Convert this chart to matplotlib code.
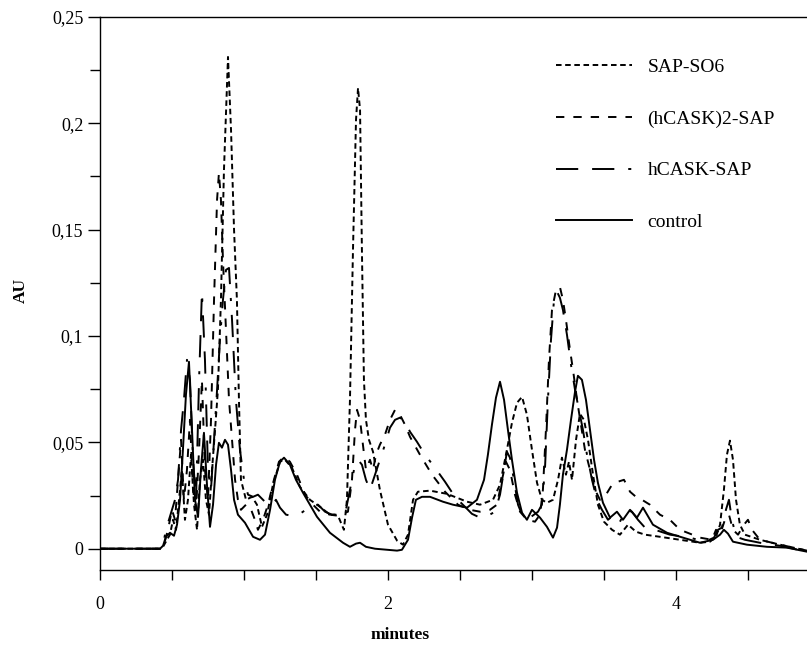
import matplotlib
matplotlib.use("Agg")
import matplotlib.pyplot as plt
from matplotlib.ticker import MultipleLocator, FixedLocator

plt.rcParams['font.family'] = ['Liberation Serif', 'DejaVu Serif']
plt.rcParams['lines.scale_dashes'] = False

# ---- data (minutes, AU) ----
sap_t = [0, 0.417, 0.438, 0.465, 0.486, 0.507, 0.528, 0.549, 0.569, 0.590,
         0.611, 0.632, 0.653, 0.674, 0.694, 0.715, 0.736, 0.757, 0.778, 0.799,
         0.819, 0.840, 0.861, 0.889, 0.910, 0.931, 0.951, 0.965, 0.979, 1.014,
         1.056, 1.090, 1.125, 1.160, 1.201, 1.250, 1.285, 1.333, 1.389, 1.458,
         1.528, 1.597, 1.653, 1.694, 1.715, 1.736, 1.757, 1.778, 1.792, 1.806,
         1.819, 1.833, 1.847, 1.868, 1.896, 1.944, 2.000, 2.063, 2.104, 2.139,
         2.174, 2.208, 2.292, 2.410, 2.549, 2.639, 2.729, 2.778, 2.826, 2.861,
         2.896, 2.931, 2.965, 3.000, 3.035, 3.069, 3.104, 3.146, 3.181, 3.208,
         3.236, 3.257, 3.278, 3.306, 3.333, 3.361, 3.389, 3.424, 3.458, 3.500,
         3.556, 3.611, 3.667, 3.722, 3.785, 3.889, 4.028, 4.167, 4.236, 4.278,
         4.306, 4.333, 4.354, 4.375, 4.396, 4.417, 4.444, 4.479, 4.583, 4.722,
         4.910]
sap_v = [0, 0, 0.0009, 0.0042, 0.0066, 0.0136, 0.0089, 0.0230, 0.0371, 0.0136,
         0.0230, 0.0442, 0.0207, 0.0089, 0.0324, 0.0418, 0.0230, 0.0160, 0.0371, 0.0559,
         0.0747, 0.1170, 0.1781, 0.2312, 0.1969, 0.1499, 0.1170, 0.0700, 0.0324, 0.0230,
         0.0244, 0.0207, 0.0103, 0.0160, 0.0301, 0.0409, 0.0418, 0.0381, 0.0291, 0.0230,
         0.0197, 0.0160, 0.0155, 0.0089, 0.0230, 0.0700, 0.1405, 0.2016, 0.2166, 0.2063,
         0.1405, 0.0794, 0.0606, 0.0512, 0.0456, 0.0277, 0.0113, 0.0038, 0.0019, 0.0066,
         0.0230, 0.0268, 0.0273, 0.0258, 0.0221, 0.0207, 0.0230, 0.0301, 0.0465, 0.0592,
         0.0686, 0.0714, 0.0630, 0.0465, 0.0310, 0.0230, 0.0216, 0.0230, 0.0324, 0.0428,
         0.0348, 0.0409, 0.0324, 0.0512, 0.0634, 0.0606, 0.0512, 0.0348, 0.0207, 0.0127,
         0.0089, 0.0066, 0.0113, 0.0080, 0.0066, 0.0056, 0.0042, 0.0028, 0.0033, 0.0056,
         0.0113, 0.0277, 0.0442, 0.0508, 0.0418, 0.0230, 0.0113, 0.0066, 0.0042, 0.0019,
         -0.0009]

hcask2_t = [0, 0.417, 0.444, 0.472, 0.500, 0.521, 0.542, 0.563, 0.583, 0.604,
            0.625, 0.646, 0.667, 0.688, 0.708, 0.729, 0.750, 0.771, 0.792, 0.813,
            0.826, 0.840, 0.854, 0.875, 0.896, 0.917, 0.938, 0.958, 0.979, 1.014,
            1.042, 1.076, 1.097, 1.132, 1.167, 1.208, 1.243, 1.278, 1.319, 1.368,
            1.424, 1.479, 1.528, 1.597, 1.667, 1.722, 1.750, 1.771, 1.785, 1.806,
            1.826, 1.847, 1.875, 1.896, 1.917, 1.944, 1.979, 2.014, 2.049, 2.083,
            2.118, 2.153, 2.222, 2.306, 2.396, 2.486, 2.569, 2.639, 2.708, 2.757,
            2.792, 2.819, 2.847, 2.882, 2.917, 2.965, 3.021, 3.056, 3.076, 3.097,
            3.118, 3.139, 3.167, 3.194, 3.215, 3.236, 3.264, 3.285, 3.313, 3.340,
            3.368, 3.403, 3.438, 3.472, 3.514, 3.556, 3.597, 3.639, 3.681, 3.722,
            3.764, 3.819, 3.889, 3.958, 4.028, 4.167, 4.250, 4.278, 4.306, 4.340,
            4.368, 4.396, 4.431, 4.472, 4.500, 4.528, 4.583, 4.722, 4.910]
hcask2_v = [0, 0, 0.0019, 0.0089, 0.0183, 0.0136, 0.0324, 0.0512, 0.0230, 0.0371,
            0.0606, 0.0277, 0.0183, 0.0465, 0.0794, 0.0371, 0.0230, 0.0606, 0.1170, 0.1640,
            0.1767, 0.1640, 0.1358, 0.1029, 0.0700, 0.0512, 0.0324, 0.0230, 0.0183, 0.0207,
            0.0197, 0.0136, 0.0089, 0.0136, 0.0207, 0.0324, 0.0409, 0.0432, 0.0409, 0.0348,
            0.0254, 0.0207, 0.0174, 0.0160, 0.0160, 0.0174, 0.0324, 0.0559, 0.0653, 0.0606,
            0.0489, 0.0371, 0.0418, 0.0371, 0.0442, 0.0489, 0.0536, 0.0606, 0.0653, 0.0630,
            0.0583, 0.0526, 0.0442, 0.0348, 0.0268, 0.0207, 0.0183, 0.0174, 0.0183, 0.0207,
            0.0324, 0.0409, 0.0371, 0.0254, 0.0174, 0.0136, 0.0127, 0.0160, 0.0277, 0.0559,
            0.0888, 0.1123, 0.1217, 0.1231, 0.1170, 0.1076, 0.0935, 0.0841, 0.0700, 0.0583,
            0.0465, 0.0371, 0.0277, 0.0230, 0.0254, 0.0301, 0.0315, 0.0324, 0.0268, 0.0244,
            0.0230, 0.0207, 0.0160, 0.0136, 0.0089, 0.0052, 0.0042, 0.0089, 0.0066, 0.0136,
            0.0160, 0.0089, 0.0066, 0.0113, 0.0136, 0.0089, 0.0042, 0.0019, -0.0009]

hcask_t = [0, 0.417, 0.438, 0.458, 0.479, 0.500, 0.521, 0.542, 0.563, 0.583,
           0.604, 0.625, 0.646, 0.667, 0.688, 0.708, 0.729, 0.750, 0.771, 0.792,
           0.813, 0.833, 0.854, 0.875, 0.896, 0.917, 0.944, 0.972, 1.000, 1.028,
           1.063, 1.097, 1.132, 1.167, 1.194, 1.222, 1.250, 1.292, 1.333, 1.389,
           1.458, 1.514, 1.563, 1.611, 1.667, 1.708, 1.736, 1.764, 1.792, 1.819,
           1.847, 1.875, 1.910, 1.944, 1.979, 2.014, 2.049, 2.083, 2.118, 2.153,
           2.201, 2.257, 2.326, 2.396, 2.465, 2.535, 2.583, 2.639, 2.694, 2.743,
           2.778, 2.806, 2.826, 2.847, 2.875, 2.903, 2.931, 2.986, 3.042, 3.069,
           3.090, 3.111, 3.132, 3.153, 3.174, 3.194, 3.215, 3.243, 3.271, 3.299,
           3.326, 3.354, 3.382, 3.417, 3.451, 3.486, 3.528, 3.569, 3.611, 3.653,
           3.694, 3.736, 3.785, 3.854, 3.958, 4.097, 4.201, 4.264, 4.292, 4.319,
           4.347, 4.368, 4.389, 4.417, 4.479, 4.583, 4.722, 4.910]
hcask_v = [0, 0, 0.0019, 0.0089, 0.0136, 0.0183, 0.0230, 0.0324, 0.0559, 0.0700,
           0.0888, 0.0794, 0.0418, 0.0230, 0.0794, 0.1208, 0.0888, 0.0371, 0.0277, 0.0512,
           0.0747, 0.0982, 0.1170, 0.1311, 0.1320, 0.1076, 0.0700, 0.0465, 0.0324, 0.0254,
           0.0244, 0.0254, 0.0230, 0.0207, 0.0207, 0.0230, 0.0193, 0.0160, 0.0155, 0.0164,
           0.0197, 0.0207, 0.0174, 0.0160, 0.0160, 0.0183, 0.0277, 0.0371, 0.0418, 0.0395,
           0.0324, 0.0277, 0.0348, 0.0418, 0.0489, 0.0569, 0.0606, 0.0616, 0.0597, 0.0550,
           0.0503, 0.0442, 0.0381, 0.0315, 0.0244, 0.0197, 0.0164, 0.0146, 0.0155, 0.0174,
           0.0254, 0.0371, 0.0456, 0.0428, 0.0324, 0.0207, 0.0160, 0.0146, 0.0174, 0.0207,
           0.0371, 0.0700, 0.0982, 0.1170, 0.1208, 0.1180, 0.1123, 0.1006, 0.0865, 0.0747,
           0.0653, 0.0559, 0.0442, 0.0324, 0.0230, 0.0183, 0.0136, 0.0160, 0.0127, 0.0183,
           0.0174, 0.0136, 0.0099, 0.0089, 0.0066, 0.0052, 0.0033, 0.0052, 0.0089, 0.0099,
           0.0183, 0.0230, 0.0136, 0.0056, 0.0042, 0.0028, 0.0014, -0.0014]

ctrl_t = [0, 0.417, 0.438, 0.458, 0.486, 0.514, 0.535, 0.556, 0.576, 0.597,
          0.618, 0.639, 0.660, 0.681, 0.701, 0.722, 0.743, 0.764, 0.785, 0.806,
          0.826, 0.847, 0.868, 0.889, 0.910, 0.931, 0.958, 1.007, 1.063, 1.111,
          1.146, 1.181, 1.215, 1.250, 1.278, 1.319, 1.361, 1.410, 1.458, 1.507,
          1.597, 1.688, 1.736, 1.778, 1.806, 1.847, 1.910, 2.063, 2.097, 2.139,
          2.167, 2.194, 2.236, 2.292, 2.382, 2.451, 2.549, 2.618, 2.667, 2.694,
          2.722, 2.750, 2.778, 2.806, 2.833, 2.861, 2.896, 2.931, 2.965, 3.000,
          3.056, 3.104, 3.146, 3.174, 3.194, 3.215, 3.243, 3.271, 3.299, 3.319,
          3.347, 3.375, 3.403, 3.431, 3.458, 3.493, 3.542, 3.590, 3.632, 3.681,
          3.729, 3.771, 3.840, 3.938, 4.049, 4.167, 4.257, 4.306, 4.333, 4.361,
          4.396, 4.493, 4.632, 4.771, 4.910]
ctrl_v = [0, 0, 0.0014, 0.0056, 0.0075, 0.0061, 0.0113, 0.0230, 0.0465, 0.0724,
          0.0879, 0.0559, 0.0230, 0.0150, 0.0371, 0.0545, 0.0301, 0.0103, 0.0207, 0.0395,
          0.0498, 0.0475, 0.0512, 0.0489, 0.0371, 0.0230, 0.0160, 0.0122, 0.0056, 0.0042,
          0.0066, 0.0183, 0.0324, 0.0409, 0.0428, 0.0395, 0.0324, 0.0263, 0.0207, 0.0150,
          0.0075, 0.0028, 0.0009, 0.0024, 0.0028, 0.0009, 0, -0.0009, -0.0005, 0.0042,
          0.0146, 0.0230, 0.0244, 0.0244, 0.0221, 0.0207, 0.0193, 0.0230, 0.0324, 0.0442,
          0.0583, 0.0710, 0.0785, 0.0700, 0.0559, 0.0418, 0.0263, 0.0169, 0.0136, 0.0183,
          0.0146, 0.0103, 0.0052, 0.0099, 0.0207, 0.0348, 0.0465, 0.0606, 0.0738, 0.0813,
          0.0794, 0.0700, 0.0559, 0.0418, 0.0310, 0.0216, 0.0146, 0.0174, 0.0136, 0.0183,
          0.0146, 0.0193, 0.0113, 0.0075, 0.0052, 0.0028, 0.0042, 0.0066, 0.0089, 0.0071,
          0.0033, 0.0019, 0.0009, 0.0005, -0.0014]

labels = ['SAP-SO6', '(hCASK)2-SAP', 'hCASK-SAP', 'control']

fig = plt.figure(figsize=(8.07, 6.45), dpi=100)
ax = fig.add_axes([0.1239, 0.1163, 0.8761, 0.8574])

lw = 1.4
ax.plot(sap_t, sap_v, color='black', lw=lw, linestyle=(0, (4, 2.6)), label=labels[0])
ax.plot(hcask2_t, hcask2_v, color='black', lw=lw, linestyle=(0, (6, 6.5)), label=labels[1])
ax.plot(hcask_t, hcask_v, color='black', lw=lw,
        linestyle=(0, (16, 10, 16, 10, 2.2, 10)), label=labels[2])
ax.plot(ctrl_t, ctrl_v, color='black', lw=lw, linestyle='-', label=labels[3])

ax.set_xlim(0, 4.91)
ax.set_ylim(-0.01, 0.25)

ax.spines['right'].set_visible(False)
for s in ['left', 'top', 'bottom']:
    ax.spines[s].set_linewidth(1.0)

yt = [0, 0.05, 0.1, 0.15, 0.2, 0.25]
ax.yaxis.set_major_locator(FixedLocator(yt))
ax.set_yticklabels(['0', '0,05', '0,1', '0,15', '0,2', '0,25'])
ax.yaxis.set_minor_locator(FixedLocator([0.025, 0.075, 0.125, 0.175, 0.225]))
ax.xaxis.set_major_locator(FixedLocator([0, 2, 4]))
ax.set_xticklabels(['0', '2', '4'])
ax.xaxis.set_minor_locator(MultipleLocator(0.5))

ax.tick_params(axis='y', which='major', direction='out', length=9, width=1,
               labelsize=13, pad=3)
ax.tick_params(axis='y', which='minor', direction='out', length=7, width=1)
ax.tick_params(axis='x', which='both', direction='out', length=7, width=1,
               labelsize=13, pad=12)

ax.set_xlabel('minutes', fontsize=12.5, fontweight='bold')
ax.xaxis.set_label_coords(0.424, -0.103)
ax.set_ylabel('AU', fontsize=12.5, fontweight='bold')
ax.yaxis.set_label_coords(-0.1, 0.506)

ax.legend(loc='upper left', bbox_to_anchor=(0.645, 0.925), frameon=False,
          fontsize=14, handlelength=3.9, handletextpad=0.8, labelspacing=1.75,
          borderaxespad=0, borderpad=0)

fig.savefig('out.png', dpi=100)
